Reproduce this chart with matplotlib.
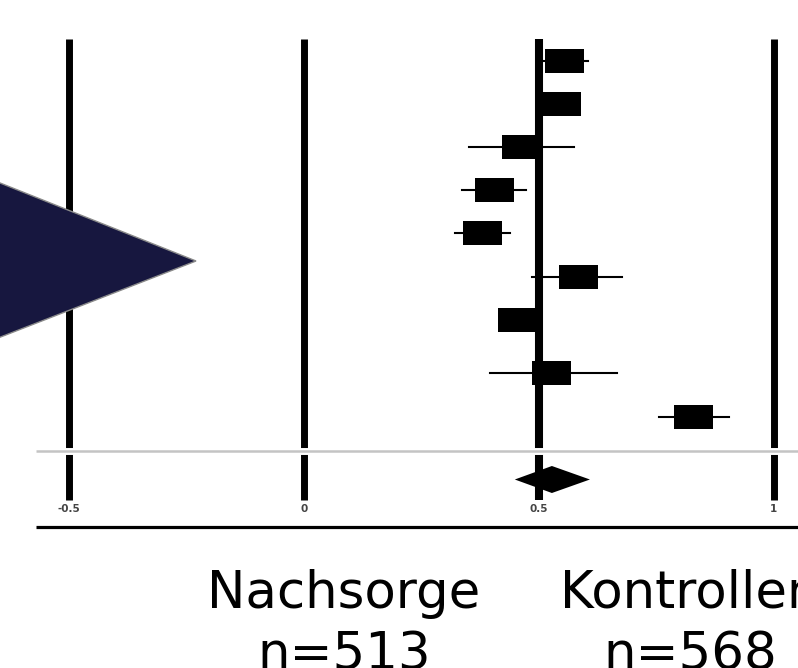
import numpy as np
import matplotlib
matplotlib.use("Agg")
import matplotlib.pyplot as plt
from matplotlib.patches import Rectangle, Polygon

# effect estimates (one per study row)
est = [0.555, 0.548, 0.464, 0.405, 0.381, 0.584, 0.455, 0.527, 0.830]
ci_lo = [0.507, 0.52, 0.351, 0.337, 0.322, 0.486, 0.43, 0.396, 0.756]
ci_hi = [0.605, 0.575, 0.575, 0.473, 0.439, 0.677, 0.49, 0.667, 0.906]
row_y = [61, 104, 147, 190, 233, 277, 319.5, 373, 417]

# pooled estimate (diamond)
pooled = 0.528
pooled_lo = 0.449
pooled_hi = 0.609
pooled_y = 479.5

ticks = [-0.5, 0, 0.5, 1]
tick_labels = ["-0.5", "0", "0.5", "1"]

groups = ["Nachsorge", "Kontrollen"]
group_n = ["n=513", "n=568"]

W, H = 798, 668
fig = plt.figure(figsize=(W / 100, H / 100), dpi=100)
ax = fig.add_axes([0, 0, 1, 1])
px = 469.5  # pixels per unit on x
ax.set_xlim(-304 / px, (W - 304) / px)
ax.set_ylim(H, 0)
ax.axis("off")

# vertical reference lines
for t, lab in zip(ticks, tick_labels):
    lw = 5.8 if t == 0.5 else 5.0
    ax.plot([t, t], [39, 500], color="black", lw=lw, solid_capstyle="butt", zorder=4)
    ax.text(t, 509, lab, ha="center", va="center",
            fontsize=7.5, fontweight="bold", color="#444444")

# study rows: whisker + box
bw = 39 / px
bh = 24
for e, lo, hi, y in zip(est, ci_lo, ci_hi, row_y):
    ax.plot([lo, hi], [y, y], color="black", lw=1.5, zorder=2)
    ax.add_patch(Rectangle((e - bw / 2, y - bh / 2), bw, bh,
                           facecolor="black", edgecolor="none", zorder=3))

# separator line with white gap around it
x0 = (36 - 304) / px
x1 = (W - 304) / px
ax.plot([x0, x1], [451, 451], color="white", lw=5, solid_capstyle="butt", zorder=5)
ax.plot([x0, x1], [451, 451], color="#c4c4c4", lw=1.8, solid_capstyle="butt", zorder=6)

# pooled diamond
dh = 13.5
diamond = [(pooled_lo, pooled_y), (pooled, pooled_y - dh),
           (pooled_hi, pooled_y), (pooled, pooled_y + dh)]
ax.add_patch(Polygon(diamond, closed=True, facecolor="black", edgecolor="none", zorder=7))

# bottom rule
ax.plot([x0, x1], [527, 527], color="black", lw=2.3, solid_capstyle="butt", zorder=4)

# big navy arrow head on the left
tri = [(-20 / W, 1 - 175 / H), (196 / W, 1 - 261 / H), (-20 / W, 1 - 345 / H)]
fig.patches.append(Polygon(tri, closed=True, transform=fig.transFigure,
                           facecolor="#17173f", edgecolor="#8a8a8a", lw=1.0, zorder=10))

# group labels
for gx, name, n in zip([344, 690], groups, group_n):
    fig.text(gx / W, 1 - 608 / H, name, ha="center", va="baseline",
             fontsize=37, color="black")
    fig.text(gx / W, 1 - 669 / H, n, ha="center", va="baseline",
             fontsize=37, color="black")

fig.savefig("out.png", dpi=100)
